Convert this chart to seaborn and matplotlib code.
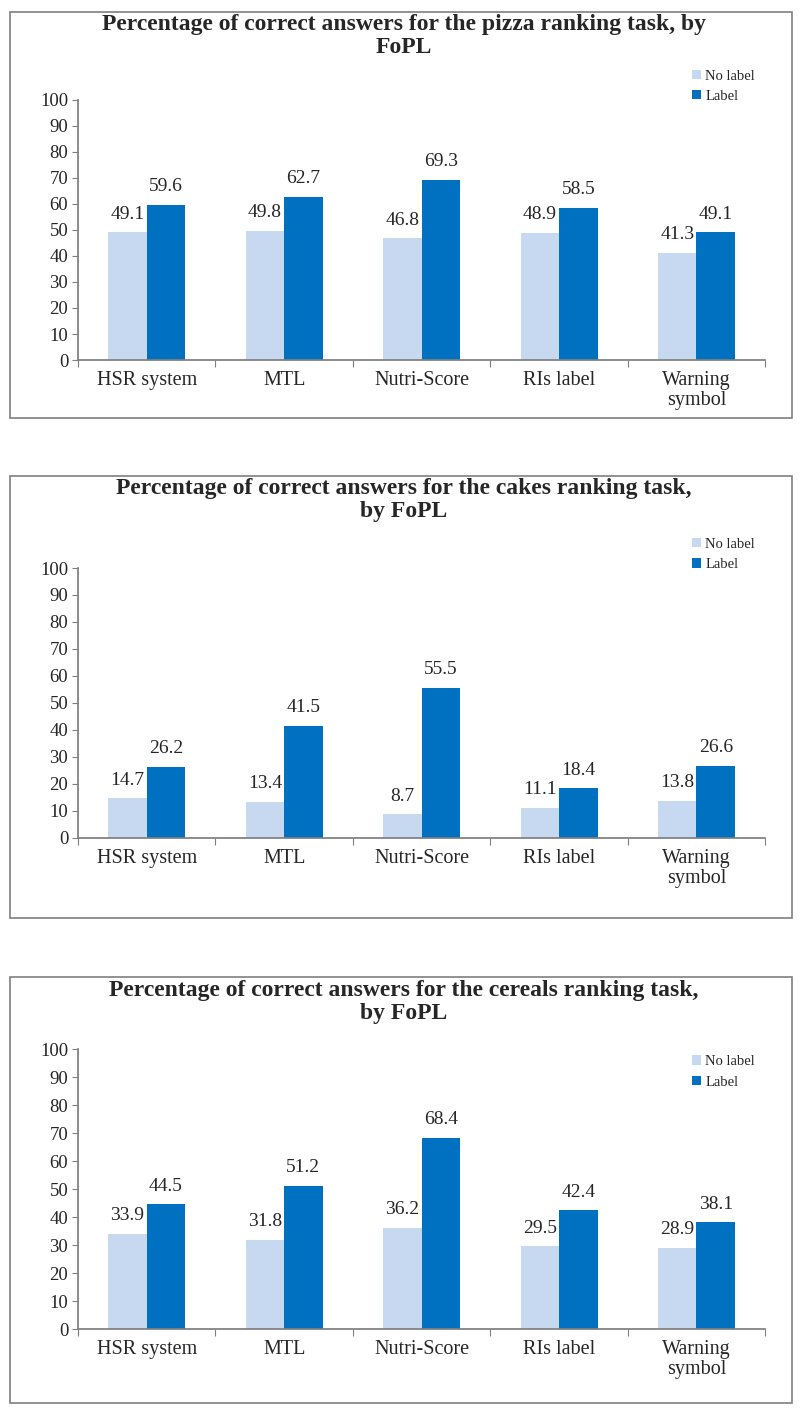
"""
Percentage of correct answers per ranking task, by FoPL.
"""
import seaborn as sns
import pandas as pd
import matplotlib.pyplot as plt
from matplotlib.patches import Rectangle

fopl = ["HSR system", "MTL", "Nutri-Score", "RIs label", "Warning\nsymbol"]
conditions = ["No label", "Label"]

pizza_no_label = [49.1, 49.8, 46.8, 48.9, 41.3]
pizza_label = [59.6, 62.7, 69.3, 58.5, 49.1]
cakes_no_label = [14.7, 13.4, 8.7, 11.1, 13.8]
cakes_label = [26.2, 41.5, 55.5, 18.4, 26.6]
cereals_no_label = [33.9, 31.8, 36.2, 29.5, 28.9]
cereals_label = [44.5, 51.2, 68.4, 42.4, 38.1]

titles = [
    "Percentage of correct answers for the pizza ranking task, by\nFoPL",
    "Percentage of correct answers for the cakes ranking task,\nby FoPL",
    "Percentage of correct answers for the cereals ranking task,\nby FoPL",
]
yticks = list(range(0, 101, 10))

light = "#C6D9F1"
dark = "#0070C0"


def make_df(no_label, label):
    return pd.DataFrame({
        "FoPL": fopl * 2,
        "Condition": ["No label"] * len(fopl) + ["Label"] * len(fopl),
        "pct": no_label + label,
    })


sns.set_theme(style="white")
plt.rcParams["font.family"] = ["Liberation Serif", "DejaVu Serif"]

fig = plt.figure(figsize=(8, 14.14), dpi=100)

# Layout of each panel: axes rect, box rect, title y, legend top (fig fraction).
panels = [
    dict(data=make_df(pizza_no_label, pizza_label),
         ax=[0.0975, 0.7454, 0.859, 0.1839],
         box=(0.0125, 0.7044, 0.9775, 0.2871),
         title_y=0.990, leg_y=0.960),
    dict(data=make_df(cakes_no_label, cakes_label),
         ax=[0.0975, 0.4074, 0.859, 0.1909],
         box=(0.0125, 0.3508, 0.9775, 0.3126),
         title_y=0.662, leg_y=0.629),
    dict(data=make_df(cereals_no_label, cereals_label),
         ax=[0.0975, 0.0601, 0.859, 0.1980],
         box=(0.0125, 0.0078, 0.9775, 0.3012),
         title_y=0.307, leg_y=0.263),
]

for p, title in zip(panels, titles):
    fig.patches.append(Rectangle(p["box"][:2], p["box"][2], p["box"][3],
                                 transform=fig.transFigure, fill=False,
                                 edgecolor="#7F7F7F", linewidth=1.2))
    ax = fig.add_axes(p["ax"])
    sns.barplot(data=p["data"], x="FoPL", y="pct", hue="Condition",
                hue_order=conditions, palette=[light, dark], width=0.56,
                saturation=1, linewidth=0, ax=ax)
    for cont in ax.containers:
        ax.bar_label(cont, fmt="%.1f", padding=7, fontsize=14)

    ax.set_ylim(0, 100)
    ax.set_yticks(yticks)
    ax.set_xlim(-0.5, len(fopl) - 0.5)
    ax.set_xlabel("")
    ax.set_ylabel("")
    ax.tick_params(axis="y", labelsize=13.5, length=4, width=0.8,
                   color="#7F7F7F", direction="out", left=True, pad=3)
    ax.tick_params(axis="x", labelsize=14.5, length=0, pad=8)
    ax.set_xticks([i - 0.5 for i in range(len(fopl) + 1)], minor=True)
    ax.tick_params(axis="x", which="minor", length=5, width=0.8,
                   color="#7F7F7F", bottom=True)
    for lbl in ax.get_xticklabels():
        lbl.set_linespacing(1.05)
    sns.despine(ax=ax)
    ax.spines["left"].set_color("#7F7F7F")
    ax.spines["bottom"].set_color("#7F7F7F")

    handles, labels = ax.get_legend_handles_labels()
    ax.legend(handles, labels, loc="upper right", frameon=False,
              bbox_to_anchor=(0.96, p["leg_y"]), bbox_transform=fig.transFigure,
              fontsize=10.5, handlelength=0.6, handleheight=0.6,
              handletextpad=0.3, labelspacing=0.5)

    fig.text(0.505, p["title_y"], title, ha="center", va="top",
             fontsize=17, fontweight="bold", linespacing=1.1)

plt.savefig("out.png", dpi=100)
